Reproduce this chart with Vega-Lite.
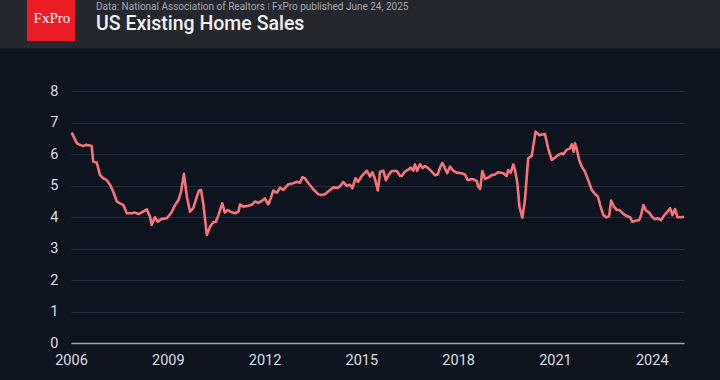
{
  "$schema": "https://vega.github.io/schema/vega-lite/v6.json",
  "width": 613,
  "height": 252,
  "autosize": {"type": "none"},
  "padding": {"left": 71, "top": 91, "right": 36, "bottom": 37},
  "background": "#0d1420",
  "config": {"view": {"stroke": null}, "font": "Roboto"},
  "datasets": {
    "sales": [
      {"year": 2006.02, "sales": 6.68}, {"year": 2006.18, "sales": 6.34}, {"year": 2006.28, "sales": 6.29}, {"year": 2006.38, "sales": 6.25},
      {"year": 2006.46, "sales": 6.29}, {"year": 2006.59, "sales": 6.27}, {"year": 2006.64, "sales": 6.25}, {"year": 2006.69, "sales": 5.76},
      {"year": 2006.80, "sales": 5.72}, {"year": 2006.90, "sales": 5.33}, {"year": 2007.00, "sales": 5.23}, {"year": 2007.11, "sales": 5.17},
      {"year": 2007.21, "sales": 5.02}, {"year": 2007.31, "sales": 4.80}, {"year": 2007.42, "sales": 4.49}, {"year": 2007.52, "sales": 4.43},
      {"year": 2007.62, "sales": 4.38}, {"year": 2007.73, "sales": 4.12}, {"year": 2007.88, "sales": 4.12}, {"year": 2007.98, "sales": 4.14},
      {"year": 2008.09, "sales": 4.09}, {"year": 2008.24, "sales": 4.17}, {"year": 2008.35, "sales": 4.24}, {"year": 2008.45, "sales": 4.01},
      {"year": 2008.50, "sales": 3.75}, {"year": 2008.60, "sales": 3.99}, {"year": 2008.69, "sales": 3.85}, {"year": 2008.81, "sales": 3.94},
      {"year": 2008.97, "sales": 3.96}, {"year": 2009.12, "sales": 4.15}, {"year": 2009.22, "sales": 4.37}, {"year": 2009.33, "sales": 4.54},
      {"year": 2009.41, "sales": 4.80}, {"year": 2009.50, "sales": 5.37}, {"year": 2009.59, "sales": 4.65}, {"year": 2009.69, "sales": 4.17},
      {"year": 2009.79, "sales": 4.28}, {"year": 2009.90, "sales": 4.65}, {"year": 2009.97, "sales": 4.84}, {"year": 2010.03, "sales": 4.86},
      {"year": 2010.10, "sales": 4.43}, {"year": 2010.21, "sales": 3.43}, {"year": 2010.31, "sales": 3.69}, {"year": 2010.41, "sales": 3.83},
      {"year": 2010.49, "sales": 3.85}, {"year": 2010.57, "sales": 4.06}, {"year": 2010.69, "sales": 4.43}, {"year": 2010.77, "sales": 4.14},
      {"year": 2010.86, "sales": 4.22}, {"year": 2010.98, "sales": 4.15}, {"year": 2011.08, "sales": 4.12}, {"year": 2011.19, "sales": 4.17},
      {"year": 2011.24, "sales": 4.40}, {"year": 2011.34, "sales": 4.33}, {"year": 2011.50, "sales": 4.36}, {"year": 2011.62, "sales": 4.40},
      {"year": 2011.70, "sales": 4.49}, {"year": 2011.81, "sales": 4.45}, {"year": 2011.91, "sales": 4.51}, {"year": 2012.01, "sales": 4.59},
      {"year": 2012.11, "sales": 4.40}, {"year": 2012.20, "sales": 4.62}, {"year": 2012.27, "sales": 4.84}, {"year": 2012.38, "sales": 4.77},
      {"year": 2012.48, "sales": 4.93}, {"year": 2012.58, "sales": 4.86}, {"year": 2012.74, "sales": 5.04}, {"year": 2012.89, "sales": 5.07},
      {"year": 2013.00, "sales": 5.12}, {"year": 2013.10, "sales": 5.09}, {"year": 2013.17, "sales": 5.26}, {"year": 2013.25, "sales": 5.23},
      {"year": 2013.36, "sales": 5.07}, {"year": 2013.51, "sales": 4.88}, {"year": 2013.67, "sales": 4.72}, {"year": 2013.77, "sales": 4.70},
      {"year": 2013.87, "sales": 4.72}, {"year": 2014.03, "sales": 4.86}, {"year": 2014.13, "sales": 4.94}, {"year": 2014.27, "sales": 4.93},
      {"year": 2014.34, "sales": 4.98}, {"year": 2014.44, "sales": 5.11}, {"year": 2014.55, "sales": 4.99}, {"year": 2014.65, "sales": 5.02},
      {"year": 2014.72, "sales": 4.91}, {"year": 2014.82, "sales": 5.23}, {"year": 2014.90, "sales": 5.12}, {"year": 2015.01, "sales": 5.30},
      {"year": 2015.17, "sales": 5.47}, {"year": 2015.27, "sales": 5.28}, {"year": 2015.34, "sales": 5.42}, {"year": 2015.42, "sales": 5.22},
      {"year": 2015.51, "sales": 4.84}, {"year": 2015.58, "sales": 5.44}, {"year": 2015.68, "sales": 5.47}, {"year": 2015.76, "sales": 5.17},
      {"year": 2015.84, "sales": 5.33}, {"year": 2015.94, "sales": 5.46}, {"year": 2016.10, "sales": 5.46}, {"year": 2016.20, "sales": 5.30},
      {"year": 2016.25, "sales": 5.30}, {"year": 2016.35, "sales": 5.44}, {"year": 2016.46, "sales": 5.51}, {"year": 2016.53, "sales": 5.57},
      {"year": 2016.61, "sales": 5.47}, {"year": 2016.66, "sales": 5.67}, {"year": 2016.73, "sales": 5.47}, {"year": 2016.82, "sales": 5.68},
      {"year": 2016.90, "sales": 5.55}, {"year": 2016.97, "sales": 5.62}, {"year": 2017.07, "sales": 5.55}, {"year": 2017.18, "sales": 5.44},
      {"year": 2017.28, "sales": 5.33}, {"year": 2017.37, "sales": 5.35}, {"year": 2017.44, "sales": 5.58}, {"year": 2017.51, "sales": 5.72},
      {"year": 2017.59, "sales": 5.55}, {"year": 2017.66, "sales": 5.39}, {"year": 2017.75, "sales": 5.60}, {"year": 2017.85, "sales": 5.47},
      {"year": 2017.95, "sales": 5.41}, {"year": 2018.11, "sales": 5.39}, {"year": 2018.21, "sales": 5.35}, {"year": 2018.30, "sales": 5.17},
      {"year": 2018.40, "sales": 5.20}, {"year": 2018.47, "sales": 5.20}, {"year": 2018.58, "sales": 5.14}, {"year": 2018.62, "sales": 4.96},
      {"year": 2018.68, "sales": 4.89}, {"year": 2018.75, "sales": 5.46}, {"year": 2018.83, "sales": 5.21}, {"year": 2018.93, "sales": 5.25},
      {"year": 2019.04, "sales": 5.33}, {"year": 2019.14, "sales": 5.35}, {"year": 2019.24, "sales": 5.42}, {"year": 2019.40, "sales": 5.39},
      {"year": 2019.50, "sales": 5.30}, {"year": 2019.55, "sales": 5.49}, {"year": 2019.63, "sales": 5.41}, {"year": 2019.71, "sales": 5.67},
      {"year": 2019.76, "sales": 5.49}, {"year": 2019.83, "sales": 5.12}, {"year": 2019.90, "sales": 4.33}, {"year": 2019.99, "sales": 3.98},
      {"year": 2020.07, "sales": 4.54}, {"year": 2020.17, "sales": 5.86}, {"year": 2020.28, "sales": 5.94}, {"year": 2020.40, "sales": 6.71},
      {"year": 2020.51, "sales": 6.60}, {"year": 2020.61, "sales": 6.62}, {"year": 2020.69, "sales": 6.63}, {"year": 2020.79, "sales": 6.18},
      {"year": 2020.90, "sales": 5.81}, {"year": 2021.00, "sales": 5.88}, {"year": 2021.10, "sales": 5.97}, {"year": 2021.21, "sales": 6.02},
      {"year": 2021.26, "sales": 5.99}, {"year": 2021.36, "sales": 6.13}, {"year": 2021.47, "sales": 6.18}, {"year": 2021.52, "sales": 6.31},
      {"year": 2021.58, "sales": 6.07}, {"year": 2021.62, "sales": 6.34}, {"year": 2021.67, "sales": 6.18}, {"year": 2021.75, "sales": 5.81},
      {"year": 2021.83, "sales": 5.60}, {"year": 2021.93, "sales": 5.44}, {"year": 2022.03, "sales": 5.17}, {"year": 2022.14, "sales": 4.86},
      {"year": 2022.24, "sales": 4.73}, {"year": 2022.33, "sales": 4.65}, {"year": 2022.40, "sales": 4.38}, {"year": 2022.50, "sales": 4.06},
      {"year": 2022.60, "sales": 3.99}, {"year": 2022.68, "sales": 4.03}, {"year": 2022.74, "sales": 4.52}, {"year": 2022.84, "sales": 4.31},
      {"year": 2022.92, "sales": 4.22}, {"year": 2023.00, "sales": 4.22}, {"year": 2023.12, "sales": 4.10}, {"year": 2023.22, "sales": 4.03},
      {"year": 2023.33, "sales": 3.99}, {"year": 2023.40, "sales": 3.85}, {"year": 2023.50, "sales": 3.88}, {"year": 2023.61, "sales": 3.90},
      {"year": 2023.67, "sales": 4.06}, {"year": 2023.74, "sales": 4.38}, {"year": 2023.81, "sales": 4.22}, {"year": 2023.92, "sales": 4.14},
      {"year": 2024.02, "sales": 3.99}, {"year": 2024.10, "sales": 3.93}, {"year": 2024.18, "sales": 3.96}, {"year": 2024.29, "sales": 3.90},
      {"year": 2024.39, "sales": 4.06}, {"year": 2024.49, "sales": 4.17}, {"year": 2024.57, "sales": 4.28}, {"year": 2024.64, "sales": 4.06},
      {"year": 2024.72, "sales": 4.25}, {"year": 2024.80, "sales": 3.99}, {"year": 2024.91, "sales": 3.99}, {"year": 2025.00, "sales": 4.01}
    ]
  },
  "layer": [
    {
      "data": {"name": "sales"},
      "mark": {"type": "line", "color": "#f87479", "strokeWidth": 2.6, "strokeJoin": "round"},
      "encoding": {
        "x": {
          "field": "year", "type": "quantitative",
          "scale": {"domain": [2006, 2025], "nice": false, "zero": false},
          "axis": {
            "title": null, "values": [2006, 2009, 2012, 2015, 2018, 2021, 2024], "format": "d",
            "grid": false, "ticks": false, "domain": true, "domainColor": "#a0a4ab", "domainWidth": 1.5,
            "labelFont": "Roboto", "labelFontSize": 14.5, "labelColor": "#dcdfe4", "labelPadding": 10, "labelFlush": false, "labelOverlap": false
          }
        },
        "y": {
          "field": "sales", "type": "quantitative",
          "scale": {"domain": [0, 8], "nice": false},
          "axis": {
            "title": null, "values": [0, 1, 2, 3, 4, 5, 6, 7, 8], "tickCount": 9,
            "grid": true, "gridColor": "#272e3b", "gridWidth": 1, "ticks": false, "domain": false,
            "labelFont": "Roboto", "labelFontSize": 14.5, "labelColor": "#dcdfe4", "labelPadding": 13, "labelOverlap": false
          }
        }
      }
    },
    {
      "data": {"values": [{"part": "header"}]},
      "mark": {"type": "rect", "color": "#25272f"},
      "encoding": {
        "x": {"datum": 2003.7, "type": "quantitative"},
        "x2": {"datum": 2026.2},
        "y": {"datum": 9.35, "type": "quantitative"},
        "y2": {"datum": 11.3}
      }
    },
    {
      "data": {"values": [{"logo": "FxPro"}]},
      "mark": {"type": "rect", "color": "#ec1c24"},
      "encoding": {
        "x": {"datum": 2004.636, "type": "quantitative"},
        "x2": {"datum": 2006.124},
        "y": {"datum": 9.587, "type": "quantitative"},
        "y2": {"datum": 11.3}
      }
    },
    {
      "data": {"values": [{"logo": "FxPro"}]},
      "mark": {"type": "text", "color": "#ffffff", "font": "Liberation Serif", "fontSize": 15, "fontWeight": "normal", "align": "center", "baseline": "alphabetic"},
      "encoding": {
        "x": {"datum": 2005.41, "type": "quantitative"},
        "y": {"datum": 10.16, "type": "quantitative"},
        "text": {"field": "logo", "type": "nominal"}
      }
    },
    {
      "data": {"values": [{"source": "Data: National Association of Realtors ǀ FxPro published June 24, 2025"}]},
      "mark": {"type": "text", "color": "#a4a7ae", "font": "Roboto", "fontSize": 10, "align": "left", "baseline": "alphabetic"},
      "encoding": {
        "x": {"datum": 2006.775, "type": "quantitative"},
        "y": {"datum": 10.56, "type": "quantitative"},
        "text": {"field": "source", "type": "nominal"}
      }
    },
    {
      "data": {"values": [{"heading": "US Existing Home Sales"}]},
      "mark": {"type": "text", "color": "#f2f2f2", "font": "Roboto", "fontSize": 19.5, "fontWeight": 500, "align": "left", "baseline": "alphabetic"},
      "encoding": {
        "x": {"datum": 2006.775, "type": "quantitative"},
        "y": {"datum": 9.937, "type": "quantitative"},
        "text": {"field": "heading", "type": "nominal"}
      }
    }
  ]
}
